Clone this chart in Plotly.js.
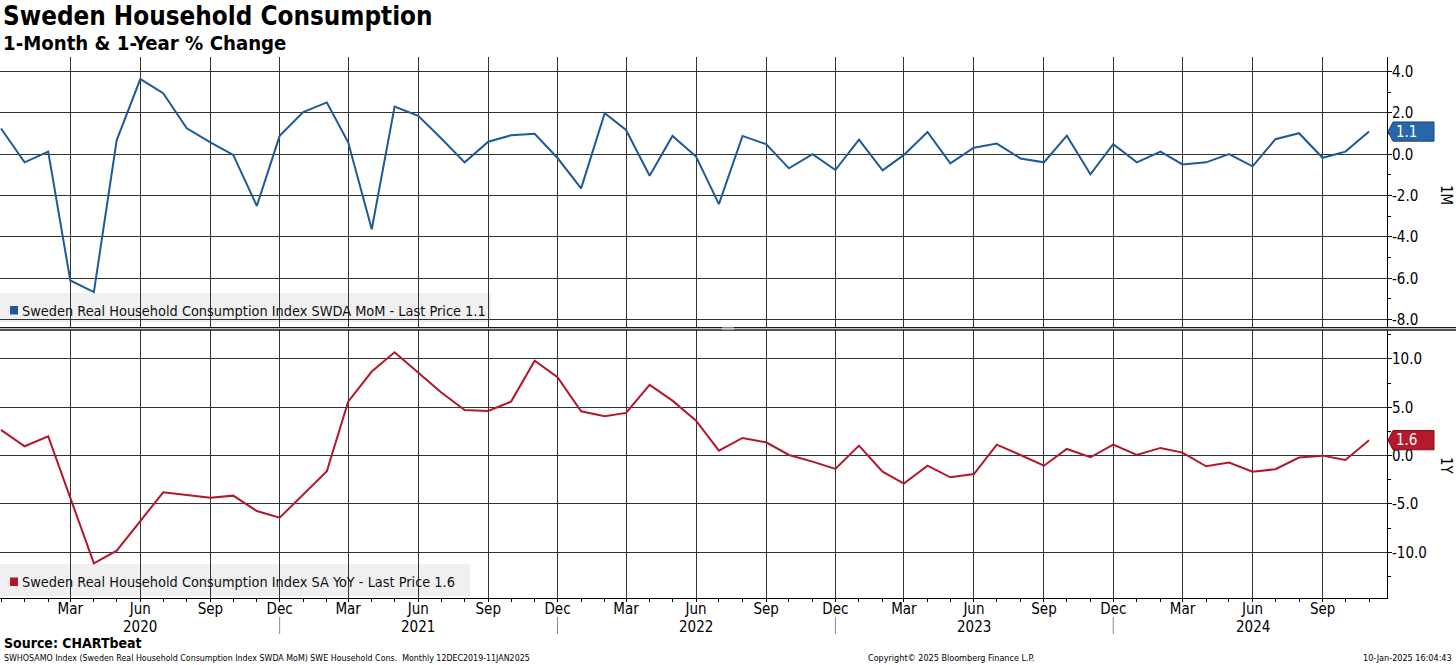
<!DOCTYPE html>
<html>
<head>
<meta charset="utf-8">
<script src="https://cdn.plot.ly/plotly-3.0.1.min.js"></script>
<style>
  html, body { margin: 0; padding: 0; background: #fff; }
  #chart { width: 1456px; height: 665px; }
</style>
</head>
<body>
<div id="chart"></div>
<script>
// ---------------- DATA ----------------
const months = [
  "2019-12-01",
  "2020-01-01","2020-02-01","2020-03-01","2020-04-01","2020-05-01","2020-06-01",
  "2020-07-01","2020-08-01","2020-09-01","2020-10-01","2020-11-01","2020-12-01",
  "2021-01-01","2021-02-01","2021-03-01","2021-04-01","2021-05-01","2021-06-01",
  "2021-07-01","2021-08-01","2021-09-01","2021-10-01","2021-11-01","2021-12-01",
  "2022-01-01","2022-02-01","2022-03-01","2022-04-01","2022-05-01","2022-06-01",
  "2022-07-01","2022-08-01","2022-09-01","2022-10-01","2022-11-01","2022-12-01",
  "2023-01-01","2023-02-01","2023-03-01","2023-04-01","2023-05-01","2023-06-01",
  "2023-07-01","2023-08-01","2023-09-01","2023-10-01","2023-11-01","2023-12-01",
  "2024-01-01","2024-02-01","2024-03-01","2024-04-01","2024-05-01","2024-06-01",
  "2024-07-01","2024-08-01","2024-09-01","2024-10-01","2024-11-01"
];

// 1-month % change (SWDA MoM)
const momValues = [
  1.25,
  -0.39, 0.13, -6.11, -6.67, 0.69, 3.64, 2.96, 1.26, 0.58, -0.03, -2.50, 0.89,
  2.04, 2.51, 0.58, -3.63, 2.31, 1.86, 0.78, -0.39, 0.61, 0.92, 0.99, -0.18,
  -1.65, 1.99, 1.18, -1.04, 0.89, -0.11, -2.41, 0.89, 0.49, -0.68, 0.01, -0.76,
  0.71, -0.78, -0.03, 1.08, -0.44, 0.32, 0.52, -0.20, -0.39, 0.90, -0.97, 0.49,
  -0.39, 0.13, -0.49, -0.39, 0.01, -0.58, 0.73, 1.02, -0.17, 0.13, 1.10
];

// 1-year % change (SA YoY)
const yoyValues = [
  2.66,
  0.97, 2.00, -4.30, -11.15, -9.83, -6.80, -3.80, -4.07, -4.35, -4.14, -5.73, -6.42,
  -3.97, -1.62, 5.59, 8.70, 10.70, 8.63, 6.56, 4.73, 4.62, 5.59, 9.83, 8.11,
  4.59, 4.07, 4.42, 7.32, 5.69, 3.62, 0.52, 1.83, 1.38, 0.07, -0.62, -1.38,
  1.04, -1.66, -2.90, -1.04, -2.24, -1.90, 1.14, 0.07, -1.04, 0.69, -0.17, 1.14,
  0.07, 0.80, 0.31, -1.10, -0.72, -1.66, -1.41, -0.20, 0.00, -0.45, 1.60
];

const quarterTicks = [
  "2020-03-01","2020-06-01","2020-09-01","2020-12-01",
  "2021-03-01","2021-06-01","2021-09-01","2021-12-01",
  "2022-03-01","2022-06-01","2022-09-01","2022-12-01",
  "2023-03-01","2023-06-01","2023-09-01","2023-12-01",
  "2024-03-01","2024-06-01","2024-09-01"
];
const quarterLabels = [
  "Mar","Jun","Sep","Dec",
  "Mar","Jun","Sep","Dec",
  "Mar","Jun","Sep","Dec",
  "Mar","Jun","Sep","Dec",
  "Mar","Jun","Sep"
];
const yearLabelDates = ["2020-06-01","2021-06-01","2022-06-01","2023-06-01","2024-06-01"];
const yearLabels = ["2020","2021","2022","2023","2024"];
const yearBreaks = ["2020-12-01","2021-12-01","2022-12-01","2023-12-01"];

const momTicks = [-8, -6, -4, -2, 0, 2, 4];
const yoyTicks = [-10, -5, 0, 5, 10];

const momName = "Sweden Real Household Consumption Index SWDA MoM";
const yoyName = "Sweden Real Household Consumption Index SA YoY";

// ---------------- STYLE / LAYOUT ----------------
const FONT = "DejaVu Sans Condensed, DejaVu Sans, sans-serif";
const BLUE = "#1d5a98";
const RED = "#b3172b";
const GRID = "#333333";

const W = 1456, H = 665;
const M = { l: 0, r: 69, t: 57, b: 67 };
const PW = W - M.l - M.r, PH = H - M.t - M.b;
const BOTTOM = H - M.b;
const px = v => (v - M.l) / PW;          // pixel x -> paper
const py = v => (BOTTOM - v) / PH;       // pixel y -> paper

const topDomain = [py(327), 1];
const botDomain = [0, py(330)];

const lastMom = momValues[momValues.length - 1];
const lastYoy = yoyValues[yoyValues.length - 1];

const traces = [
  { x: months, y: momValues, xaxis: "x2", yaxis: "y", type: "scatter", mode: "lines",
    line: { color: BLUE, width: 2 }, name: momName, showlegend: false, hoverinfo: "skip" },
  { x: months, y: yoyValues, xaxis: "x", yaxis: "y2", type: "scatter", mode: "lines",
    line: { color: RED, width: 2 }, name: yoyName, showlegend: false, hoverinfo: "skip" }
];

const tickFont = { family: FONT, size: 15, color: "#000" };

function yAxis(domain, anchor, range, ticks, minorStep) {
  return {
    domain: domain, anchor: anchor, side: "right", range: range,
    tickmode: "array", tickvals: ticks, ticktext: ticks.map(v => v.toFixed(1)),
    showgrid: true, gridcolor: GRID, gridwidth: 1, zeroline: false,
    showline: true, linecolor: "#000", linewidth: 1,
    ticks: "outside", ticklen: 4, tickcolor: "#000", tickfont: tickFont,
    ticklabelstandoff: -3,
    minor: { tickmode: "linear", tick0: 0, dtick: minorStep, ticks: "outside",
             ticklen: 3, tickcolor: "#000", showgrid: false },
    fixedrange: true
  };
}

const xRange = ["2019-11-29 16:00", "2024-11-24 14:00"];

const shapes = [];
const annotations = [];

// separator double line between panels
[327.6, 330.0].forEach(yy => shapes.push({
  type: "line", xref: "paper", yref: "paper", x0: 0, x1: px(W), y0: py(yy), y1: py(yy),
  line: { color: "#1a1a1a", width: 1.4 }
}));
shapes.push({ type: "rect", xref: "paper", yref: "paper", x0: px(722), x1: px(734),
  y0: py(329.6), y1: py(327.4), line: { width: 0 }, fillcolor: "#cfcfcf" });

// legend boxes (under gridlines)
shapes.push({ type: "rect", layer: "below", xref: "paper", yref: "paper",
  x0: 0, x1: px(491), y0: py(322), y1: py(293), line: { width: 0 }, fillcolor: "#f0f0f0" });
shapes.push({ type: "rect", layer: "below", xref: "paper", yref: "paper",
  x0: 0, x1: px(470), y0: py(596), y1: py(564), line: { width: 0 }, fillcolor: "#f0f0f0" });
shapes.push({ type: "rect", xref: "paper", yref: "paper",
  x0: px(10), x1: px(18), y0: py(314.5), y1: py(306), line: { width: 0 }, fillcolor: BLUE });
shapes.push({ type: "rect", xref: "paper", yref: "paper",
  x0: px(10), x1: px(18), y0: py(586), y1: py(577.5), line: { width: 0 }, fillcolor: RED });

annotations.push({ xref: "paper", yref: "paper", x: px(19.5), y: py(310.5), xanchor: "left", yanchor: "middle",
  showarrow: false, text: momName + " - Last Price " + lastMom.toFixed(1),
  font: { family: FONT, size: 14.4, color: "#111" } });
annotations.push({ xref: "paper", yref: "paper", x: px(19.5), y: py(581.5), xanchor: "left", yanchor: "middle",
  showarrow: false, text: yoyName + " - Last Price " + lastYoy.toFixed(1),
  font: { family: FONT, size: 14.4, color: "#111" } });

// last price tags
const tagPath = "M 1,0 L 6,9.6 L 47,9.6 L 47,-9.6 L 6,-9.6 Z";
shapes.push({ type: "path", xref: "paper", yref: "y", xsizemode: "pixel", ysizemode: "pixel",
  xanchor: 1, yanchor: lastMom, path: tagPath, fillcolor: "#2866ab", line: { color: "#16457d", width: 1 } });
shapes.push({ type: "path", xref: "paper", yref: "y2", xsizemode: "pixel", ysizemode: "pixel",
  xanchor: 1, yanchor: lastYoy, path: tagPath, fillcolor: "#b5192c", line: { color: "#7a0e1b", width: 1 } });
annotations.push({ xref: "paper", yref: "y", x: px(1394), y: lastMom, xanchor: "left", yanchor: "middle",
  showarrow: false, text: lastMom.toFixed(1), font: { family: FONT, size: 15, color: "#fff" } });
annotations.push({ xref: "paper", yref: "y2", x: px(1394), y: lastYoy, xanchor: "left", yanchor: "middle",
  showarrow: false, text: lastYoy.toFixed(1), font: { family: FONT, size: 15, color: "#fff" } });

// axis titles (rotated clockwise)
annotations.push({ xref: "paper", yref: "paper", x: px(1446), y: py(195), xanchor: "center", yanchor: "middle",
  showarrow: false, text: "1M", textangle: 90, font: { family: FONT, size: 15, color: "#000" } });
annotations.push({ xref: "paper", yref: "paper", x: px(1446), y: py(466), xanchor: "center", yanchor: "middle",
  showarrow: false, text: "1Y", textangle: 90, font: { family: FONT, size: 15, color: "#000" } });

// year labels and separators under the x axis
yearLabelDates.forEach((d, i) => annotations.push({
  xref: "x", yref: "paper", x: d, y: py(626.5), xanchor: "center", yanchor: "middle",
  showarrow: false, text: yearLabels[i], font: tickFont
}));
yearBreaks.forEach(d => shapes.push({
  type: "line", xref: "x", yref: "paper", x0: d, x1: d, y0: py(617), y1: py(634),
  line: { color: "#8a8a8a", width: 1 }
}));

// titles & footer
annotations.push({ xref: "paper", yref: "paper", x: px(1), y: py(16.2), xanchor: "left", yanchor: "middle",
  showarrow: false, text: "<b>Sweden Household Consumption</b>", font: { family: FONT, size: 25.8, color: "#000" } });
annotations.push({ xref: "paper", yref: "paper", x: px(1), y: py(43.3), xanchor: "left", yanchor: "middle",
  showarrow: false, text: "<b>1-Month &amp; 1-Year % Change</b>", font: { family: FONT, size: 20.2, color: "#000" } });
annotations.push({ xref: "paper", yref: "paper", x: px(2), y: py(643), xanchor: "left", yanchor: "middle",
  showarrow: false, text: "<b>Source: CHARTbeat</b>", font: { family: FONT, size: 14, color: "#000" } });
annotations.push({ xref: "paper", yref: "paper", x: px(2), y: py(658), xanchor: "left", yanchor: "middle",
  showarrow: false, text: "SWHOSAMO Index (Sweden Real Household Consumption Index SWDA MoM) SWE Household Cons.&nbsp;&nbsp;Monthly 12DEC2019-11JAN2025",
  font: { family: FONT, size: 8.8, color: "#000" } });
annotations.push({ xref: "paper", yref: "paper", x: px(866), y: py(658), xanchor: "left", yanchor: "middle",
  showarrow: false, text: "Copyright© 2025 Bloomberg Finance L.P.", font: { family: FONT, size: 9, color: "#000" } });
annotations.push({ xref: "paper", yref: "paper", x: px(1454), y: py(658), xanchor: "right", yanchor: "middle",
  showarrow: false, text: "10-Jan-2025 16:04:43", font: { family: FONT, size: 9, color: "#000" } });

const layout = {
  width: W, height: H, margin: M,
  paper_bgcolor: "#fff", plot_bgcolor: "#fff",
  font: { family: FONT, size: 15, color: "#000" },
  showlegend: false,
  xaxis: {
    type: "date", anchor: "y2", domain: [0, 1], range: xRange,
    tickmode: "array", tickvals: quarterTicks, ticktext: quarterLabels,
    showgrid: true, gridcolor: GRID, gridwidth: 1, zeroline: false,
    showline: true, linecolor: "#000", linewidth: 1,
    ticks: "outside", ticklen: 3, tickcolor: "#000", tickfont: tickFont,
    ticklabelstandoff: -6,
    minor: { tickmode: "linear", tick0: "2019-12-01", dtick: "M1", ticks: "outside",
             ticklen: 3, tickcolor: "#000", showgrid: false },
    fixedrange: true
  },
  xaxis2: {
    type: "date", anchor: "y", domain: [0, 1], matches: "x", range: xRange,
    tickmode: "array", tickvals: quarterTicks, showticklabels: false, ticks: "",
    showgrid: true, gridcolor: GRID, gridwidth: 1, zeroline: false, showline: false,
    fixedrange: true
  },
  yaxis: yAxis(topDomain, "x2", [-8.36, 4.71], momTicks, 1),
  yaxis2: yAxis(botDomain, "x", [-14.73, 13.0], yoyTicks, 2.5),
  shapes: shapes,
  annotations: annotations
};

Plotly.newPlot("chart", traces, layout, { displayModeBar: false, staticPlot: true });
</script>
</body>
</html>
